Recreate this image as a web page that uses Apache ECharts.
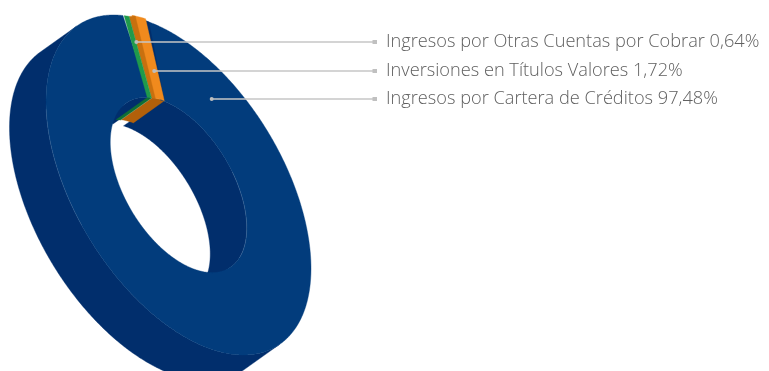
<!DOCTYPE html>
<html>
<head>
<meta charset="utf-8">
<style>html,body{margin:0;padding:0;background:#fff}#chart{width:769px;height:371px}</style>
<script src="https://cdn.jsdelivr.net/npm/echarts@6/dist/echarts.min.js"></script>
</head>
<body>
<div id="chart"></div>
<script>
// Income composition, drawn as a tilted, extruded ring.
const categories = ['Ingresos por Otras Cuentas por Cobrar', 'Inversiones en Títulos Valores', 'Ingresos por Cartera de Créditos'];
const shares = [0.64, 1.72, 97.48];
const shareLabels = ['0,64%', '1,72%', '97,48%'];
const faceColors = ['#1f9a4b', '#f08a1d', '#023c7c'];
const edgeColors = ['#0f6f35', '#b2600a', '#012e6c'];

// Ring projection: centre, ellipse axes, tilt and extrusion, in pixels.
const ring = { cx: 178.5, cy: 185, a: 188.8, b: 104, inner: 0.515, tilt: 58.6 * Math.PI / 180, dx: -36.5, dy: 26 };
const startDeg = 203.7;
// The orange slice sits slightly proud of its neighbours, mostly at the rim.
const lifts = [[0, 0], [3, -1], [0, 0]];
const innerLift = 0.3;
// The two narrow slices fan out towards the hole and have a shallower inner wall.
const innerFan = 1.7;
const narrowDepth = 0.85;
const leaderRows = [42, 71, 99];
const leaderRadius = [0.846, 0.69, 0.76];
const leaderNudge = [1, 1.5, 35];

const cosT = Math.cos(ring.tilt), sinT = Math.sin(ring.tilt);
function pt(deg, r, off) {
  const t = deg * Math.PI / 180;
  const u = ring.a * r * Math.cos(t), v = ring.b * r * Math.sin(t);
  return [ring.cx + u * cosT - v * sinT + (off ? off[0] : 0), ring.cy + u * sinT + v * cosT + (off ? off[1] : 0)];
}
function arc(from, to, r, off) {
  const out = [], n = Math.max(2, Math.ceil(Math.abs(to - from) * 2));
  for (let i = 0; i <= n; i++) out.push(pt(from + (to - from) * i / n, r, off));
  return out;
}
// Angular extent of each slice, walking clockwise from the seam.
const spans = [];
shares.reduce((acc, s) => { spans.push([acc, acc + s * 3.6]); return acc + s * 3.6; }, startDeg);
const seamMid = (spans[0][0] + spans[1][1]) / 2;
const fan = d => seamMid + (d - seamMid) * innerFan;
const shrink = off => [off[0] * innerLift, off[1] * innerLift];

function sector(from, to, off, fanned) {
  const a0 = fanned ? fan(from) : from, a1 = fanned ? fan(to) : to;
  return arc(from, to, 1, off).concat(arc(a1, a0, ring.inner, fanned ? shrink(off) : off));
}

// The parameter angle where the extrusion points straight out of the ellipse.
const du = ring.dx * cosT + ring.dy * sinT, dv = -ring.dx * sinT + ring.dy * cosT;
const facing = Math.atan2(dv / ring.b, du / ring.a) * 180 / Math.PI;
function faces(deg, sign) { return sign * Math.cos((deg - facing) * Math.PI / 180) > 0; }

function wallRuns(from, to, r, sign, off, depth) {
  const runs = []; let cur = null;
  const n = Math.max(4, Math.ceil((to - from) * 2));
  for (let i = 0; i <= n; i++) {
    const d = from + (to - from) * i / n;
    if (faces(d, sign)) { (cur = cur || []).push(d); }
    else if (cur) { runs.push(cur); cur = null; }
  }
  if (cur) runs.push(cur);
  return runs.map(run => {
    const top = run.map(d => pt(d, r, off));
    const bottom = run.map(d => pt(d, r, [off[0] + ring.dx * depth, off[1] + ring.dy * depth])).reverse();
    return top.concat(bottom);
  });
}
const poly = (points, fill) => ({ type: 'polygon', shape: { points }, style: { fill, stroke: fill, lineWidth: 0.4 }, silent: true });

function renderWalls(params, api) {
  const i = api.value(0), [from, to] = spans[i], off = lifts[i];
  const narrow = i < 2;
  const shapes = [];
  if (!narrow) wallRuns(from, to, 1, 1, off, 1).forEach(p => shapes.push(poly(p, edgeColors[i])));
  wallRuns(narrow ? fan(from) : from, narrow ? fan(to) : to, ring.inner, -1, narrow ? shrink(off) : off, narrow ? narrowDepth : 1)
    .forEach(p => shapes.push(poly(p, edgeColors[i])));
  return { type: 'group', children: shapes };
}
function renderFaces(params, api) {
  const i = api.value(0), [from, to] = spans[i], off = lifts[i];
  const shapes = [];
  if (i === 2) {
    shapes.push(poly(sector(from, to, off, false), faceColors[i]));
    // Faint highlight where the top face meets the walls.
    shapes.push({ type: 'polyline', shape: { points: arc(280, 345, ring.inner) }, style: { fill: null, stroke: 'rgba(255,255,255,0.16)', lineWidth: 0.8 }, silent: true });
    shapes.push({ type: 'polyline', shape: { points: arc(95, 135, 1) }, style: { fill: null, stroke: 'rgba(255,255,255,0.12)', lineWidth: 0.8 }, silent: true });
    // Shadowed end of the blue slice beside the orange one.
    const e = spans[1][1];
    shapes.push(poly(arc(e, e + 2.8, 1).concat([pt(fan(e), ring.inner, shrink(lifts[1]))]), edgeColors[2]));
  } else {
    shapes.push(poly(sector(from, to, off, true), faceColors[i]));
  }
  if (i === 1) {
    // Orange slice's exposed side, running from the green edge to the raised face.
    const split = from + 1.5;
    const band = [pt(from, 1), pt(split, 1, off), pt(fan(split), ring.inner, shrink(off)), pt(fan(from), ring.inner)];
    shapes.push(poly(band, '#c8700f'));
  }
  return { type: 'group', children: shapes };
}
function renderLeaders(params, api) {
  const i = api.value(0);
  const mid = (spans[i][0] + spans[i][1]) / 2;
  const anchor = i === 2 ? pt(spans[2][0] + leaderNudge[2], leaderRadius[2]) : pt(mid + leaderNudge[i], leaderRadius[i], lifts[i]);
  const y = leaderRows[i];
  return {
    type: 'group',
    children: [
      { type: 'line', shape: { x1: anchor[0], y1: y, x2: 373, y2: y }, style: { stroke: '#c6c6c6', lineWidth: 1.4 }, silent: true },
      { type: 'circle', shape: { cx: anchor[0], cy: y, r: 2 }, style: { fill: '#bdbdbd' }, silent: true },
      { type: 'rect', shape: { x: 372.5, y: y - 2, width: 4.5, height: 4 }, style: { fill: '#c0c0c0' }, silent: true },
      { type: 'text', style: { x: 386, y: y, text: categories[i] + ' ' + shareLabels[i], fill: '#606060', font: '300 18.2px "Open Sans", sans-serif', textVerticalAlign: 'middle', textAlign: 'left' }, silent: true }
    ]
  };
}
const rows = categories.map((c, i) => [i, shares[i]]);
const order = [2, 1, 0].map(i => rows[i]);
const chart = echarts.init(document.getElementById('chart'), null, { renderer: 'canvas' });
chart.setOption({
  animation: false,
  backgroundColor: '#ffffff',
  series: [
    { type: 'custom', coordinateSystem: 'none', renderItem: renderWalls, data: order, silent: true, z: 1 },
    { type: 'custom', coordinateSystem: 'none', renderItem: renderFaces, data: order, silent: true, z: 2 },
    { type: 'custom', coordinateSystem: 'none', renderItem: renderLeaders, data: order, silent: true, z: 3 }
  ]
});
</script>
</body>
</html>
